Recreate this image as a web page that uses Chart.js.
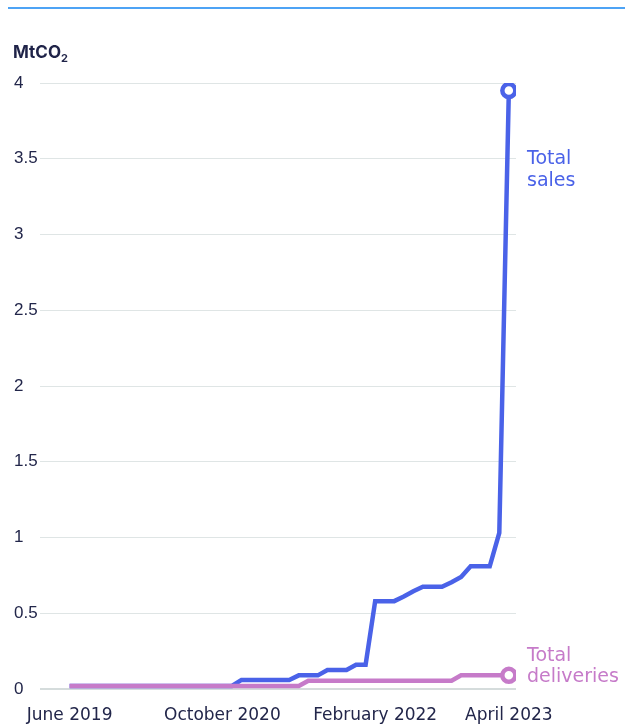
<!DOCTYPE html>
<html><head><meta charset="utf-8">
<script src="https://cdn.jsdelivr.net/npm/chart.js@4"></script>
<style>
html,body{margin:0;padding:0;background:#fff;}
#wrap{position:relative;width:625px;height:724px;overflow:hidden;}
#topline{position:absolute;left:8px;right:0;top:7px;height:2px;background:#4da3f5;}
#title{position:absolute;left:13px;top:42px;font:bold 17px Inter, sans-serif;color:#1f2348;z-index:2;}
#title sub{font-size:11px;}
canvas{position:absolute;left:0;top:0;}
</style></head>
<body><div id="wrap"><div id="topline"></div><div id="title">MtCO<sub>2</sub></div><canvas id="c" width="625" height="724"></canvas></div>
<script>
const months = ["Jun 2019","Jul 2019","Aug 2019","Sep 2019","Oct 2019","Nov 2019","Dec 2019",
"Jan 2020","Feb 2020","Mar 2020","Apr 2020","May 2020","Jun 2020","Jul 2020","Aug 2020","Sep 2020","Oct 2020","Nov 2020","Dec 2020",
"Jan 2021","Feb 2021","Mar 2021","Apr 2021","May 2021","Jun 2021","Jul 2021","Aug 2021","Sep 2021","Oct 2021","Nov 2021","Dec 2021",
"Jan 2022","Feb 2022","Mar 2022","Apr 2022","May 2022","Jun 2022","Jul 2022","Aug 2022","Sep 2022","Oct 2022","Nov 2022","Dec 2022",
"Jan 2023","Feb 2023","Mar 2023","Apr 2023"];
const totalSales = [0.02,0.02,0.02,0.02,0.02,0.02,0.02,0.02,0.02,0.02,0.02,0.02,0.02,0.02,0.02,0.02,0.02,0.02,
0.06,0.06,0.06,0.06,0.06,0.06,
0.09,0.09,0.09,
0.125,0.125,0.125,
0.16,0.16,
0.58,0.58,0.58,
0.61,0.645,
0.675,0.675,0.675,
0.705,0.74,
0.81,0.81,0.81,
1.03,3.95];
const totalDeliveries = [0.02,0.02,0.02,0.02,0.02,0.02,0.02,0.02,0.02,0.02,0.02,0.02,0.02,0.02,0.02,0.02,0.02,0.02,0.02,0.02,0.02,0.02,0.02,0.02,0.02,
0.055,0.055,0.055,0.055,0.055,0.055,0.055,0.055,0.055,0.055,0.055,0.055,0.055,0.055,0.055,0.055,
0.09,0.09,0.09,0.09,0.09,0.09];
const tickMonths = ["Jun 2019","Oct 2020","Feb 2022","Apr 2023"];
const tickLabels = ["June 2019","October 2020","February 2022","April 2023"];
const yTicks = [0,0.5,1,1.5,2,2.5,3,3.5,4];

const BLUE = '#4a62e8', PINK = '#c67bc9', NAVY = '#22264a', GRID = '#dfe5e5';
const last = months.length - 1;
const tickIdx = tickMonths.map(m => months.indexOf(m));

const labelPlugin = {
  id: 'endLabels',
  afterDatasetsDraw(chart) {
    const {ctx, chartArea, scales: {y}} = chart;
    ctx.save();
    ctx.font = '19px "DejaVu Sans"';
    ctx.textBaseline = 'middle';
    ctx.textAlign = 'left';
    const x = chartArea.right + 11;
    ctx.fillStyle = BLUE;
    const ys = y.getPixelForValue(3.5);
    ctx.fillText('Total', x, ys);
    ctx.fillText('sales', x, ys + 22);
    const p = chart.getDatasetMeta(0).data[last];
    ctx.fillStyle = PINK;
    ctx.fillText('Total', x, p.y - 19);
    ctx.fillText('deliveries', x, p.y + 2);
    ctx.restore();
  }
};

new Chart(document.getElementById('c'), {
  type: 'line',
  data: {
    datasets: [
      {
        label: 'Total deliveries',
        data: totalDeliveries.map((v, i) => ({x: i, y: v})),
        borderColor: PINK, borderWidth: 4.5, tension: 0,
        pointRadius: c => c.dataIndex === last ? 6.5 : 0,
        pointBackgroundColor: '#fff', pointBorderColor: PINK, pointBorderWidth: 4.5,
        order: 0
      },
      {
        label: 'Total sales',
        data: totalSales.map((v, i) => ({x: i, y: v})),
        borderColor: BLUE, borderWidth: 4.5, tension: 0,
        pointRadius: c => c.dataIndex === last ? 6.5 : 0,
        pointBackgroundColor: '#fff', pointBorderColor: BLUE, pointBorderWidth: 4.5,
        order: 1
      }
    ]
  },
  options: {
    responsive: false, animation: false, maintainAspectRatio: false,
    layout: {padding: {left: 14, right: 109, top: 83, bottom: 0}},
    plugins: {legend: {display: false}, tooltip: {enabled: false}},
    scales: {
      x: {
        type: 'linear', min: -3.1, max: 46.75,
        grid: {display: false}, border: {display: false},
        afterBuildTicks: s => { s.ticks = tickIdx.map(v => ({value: v})); },
        afterFit: s => { s.height = 35; },
        ticks: {
          autoSkip: false, maxRotation: 0, minRotation: 0, padding: 8, color: NAVY,
          font: {family: 'DejaVu Sans', size: 17},
          callback: v => { const k = tickIdx.indexOf(v); return k >= 0 ? tickLabels[k] : ''; }
        }
      },
      y: {
        min: 0, max: 4,
        afterFit: s => { s.width = 26; },
        afterBuildTicks: s => { s.ticks = yTicks.map(v => ({value: v})); },
        ticks: {crossAlign: 'far', padding: 0, color: NAVY, font: {family: 'Liberation Sans', size: 17},
          callback: v => String(v)},
        grid: {color: c => c.tick && c.tick.value === 0 ? '#d5dcdc' : GRID, drawTicks: false, lineWidth: c => c.tick && c.tick.value === 0 ? 2 : 1},
        border: {display: false}
      }
    }
  },
  plugins: [labelPlugin]
});
</script>
</body></html>
